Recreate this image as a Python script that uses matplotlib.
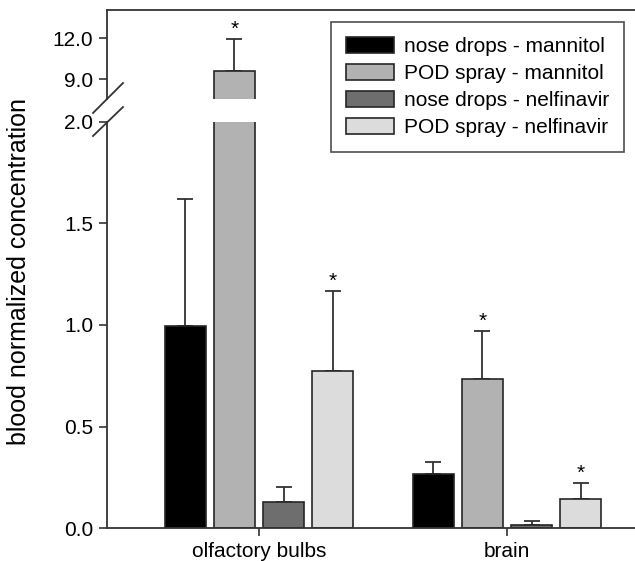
import matplotlib
matplotlib.use("Agg")
import matplotlib.pyplot as plt
import numpy as np
from matplotlib.lines import Line2D

plt.rcParams['font.family'] = ['Liberation Sans', 'DejaVu Sans']

# data
groups = ['olfactory bulbs', 'brain']
series = ['nose drops - mannitol', 'POD spray - mannitol',
          'nose drops - nelfinavir', 'POD spray - nelfinavir']
colors = ['#000000', '#b2b2b2', '#6e6e6e', '#dcdcdc']
values = [[0.995, 0.266], [9.59, 0.734], [0.128, 0.017], [0.773, 0.143]]
errors = [[0.625, 0.059], [2.31, 0.236], [0.074, 0.019], [0.394, 0.079]]
stars = [[False, False], [True, True], [False, False], [True, True]]

W, H = 635, 561
fig = plt.figure(figsize=(W / 100, H / 100), dpi=100)

# broken y axis: upper part (9 - 12) and lower part (0 - 2)
ax_top = fig.add_axes([107 / W, 1 - 99 / H, 1 - 107 / W, 89 / H])
ax = fig.add_axes([107 / W, 1 - 528 / H, 1 - 107 / W, 406 / H])

x = np.arange(len(groups))
width = 0.165
step = 0.198
axis_col = '#333333'

for a in (ax_top, ax):
    for i in range(len(series)):
        pos = x + (i - 1.5) * step
        a.bar(pos, values[i], width, color=colors[i], edgecolor='#262626',
              linewidth=1.2, label=series[i], zorder=2)
        a.errorbar(pos, values[i], yerr=[np.zeros(len(groups)), errors[i]],
                   fmt='none', ecolor='#333333', elinewidth=1.3, capsize=6,
                   capthick=1.3, zorder=1)
        for j in range(len(groups)):
            if stars[i][j]:
                a.annotate('*', (pos[j], values[i][j] + errors[i][j]),
                           xytext=(0, 7), textcoords='offset points',
                           ha='center', va='center', fontsize=15)
    a.set_xlim(-0.613, 1.516)
    a.spines['right'].set_visible(False)
    for s in a.spines.values():
        s.set_color(axis_col)
        s.set_linewidth(1.3)
    a.tick_params(direction='out', length=6, width=1.2, color=axis_col,
                  labelsize=15, pad=4)

ax.set_ylim(0, 2.0)
ax.set_yticks([0, 0.5, 1.0, 1.5, 2.0])
ax.set_yticklabels(['0.0', '0.5', '1.0', '1.5', '2.0'])
ax.set_xticks(x)
ax.set_xticklabels(groups)
ax.spines['top'].set_visible(False)

ax_top.set_ylim(7.54, 14.05)
ax_top.set_yticks([9.0, 12.0])
ax_top.set_yticklabels(['9.0', '12.0'])
ax_top.set_xticks([])
ax_top.spines['bottom'].set_visible(False)

# break marks on the y axis
def px(xp, yp):
    return xp / W, 1 - yp / H

for (x0, y0), (x1, y1) in [((93, 113), (123, 83)), ((93, 136), (123, 107))]:
    (fx0, fy0), (fx1, fy1) = px(x0, y0), px(x1, y1)
    fig.add_artist(Line2D([fx0, fx1], [fy0, fy1], color=axis_col, lw=1.3))

fig.text(19 / W, 1 - 271 / H, 'blood normalized concentration',
         rotation=90, ha='center', va='center', fontsize=18)

handles, labels = ax.get_legend_handles_labels()
leg = fig.legend(handles, labels, loc='upper right',
                 bbox_to_anchor=px(624, 22), bbox_transform=fig.transFigure,
                 borderaxespad=0, frameon=True, fancybox=False,
                 edgecolor='#222222', fontsize=15, handlelength=2.3,
                 handleheight=0.85, handletextpad=0.5, labelspacing=0.36,
                 borderpad=0.7)
leg.get_frame().set_linewidth(1.2)

fig.savefig('out.png', dpi=100)
